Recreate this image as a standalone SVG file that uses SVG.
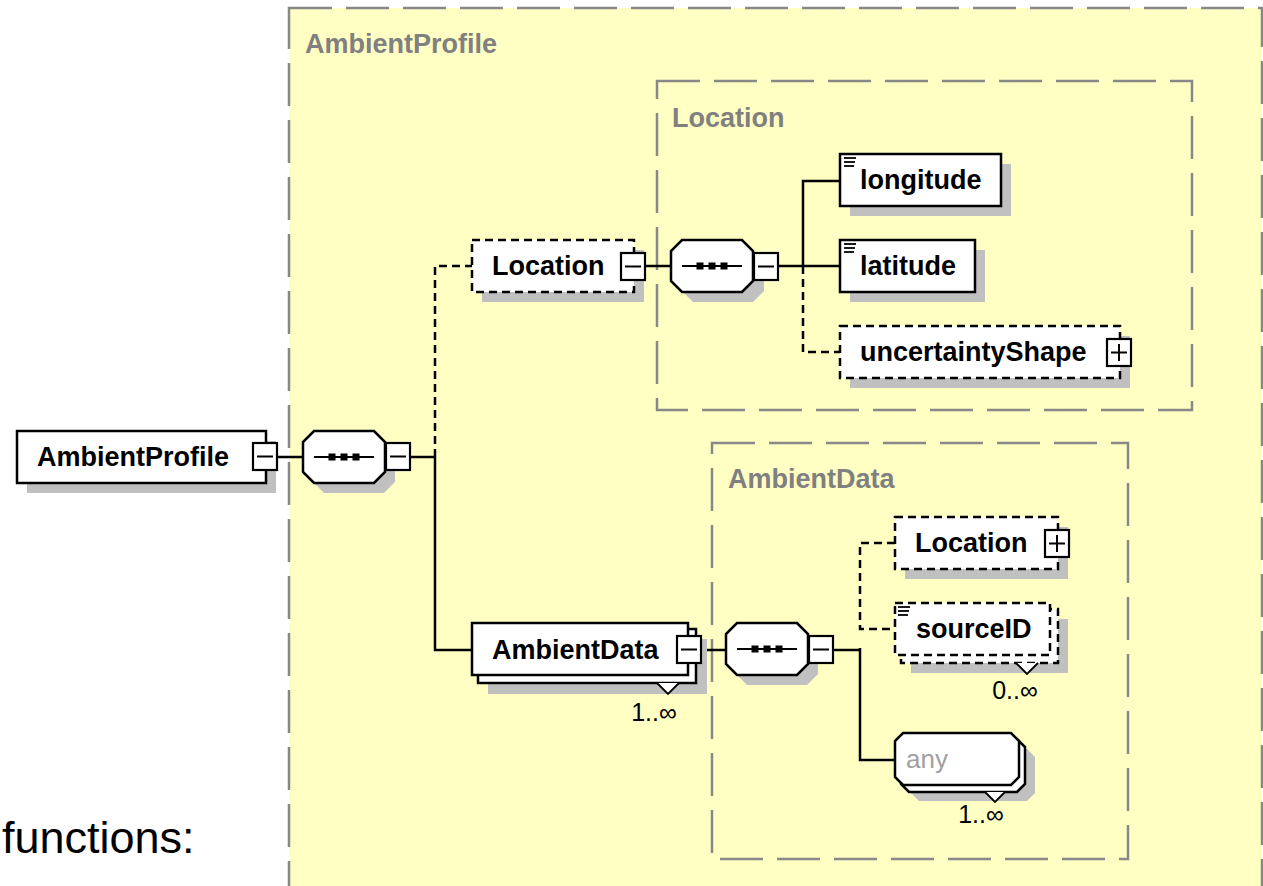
<svg xmlns="http://www.w3.org/2000/svg" xmlns:xlink="http://www.w3.org/1999/xlink" width="1263" height="886" viewBox="0 0 1263 886">
<style>
.region{fill:#ffffc4;stroke:#888;stroke-width:2.5;stroke-dasharray:43 14}
.inner{fill:none;stroke:#888;stroke-width:2.5;stroke-dasharray:43 14}
.rlabel{font-family:"Liberation Sans",Arial,sans-serif;font-weight:bold;font-size:27px;fill:#808080}
.lbl{font-family:"Liberation Sans",Arial,sans-serif;font-weight:bold;font-size:27px;fill:#000}
.anyl{font-family:"Liberation Sans",Arial,sans-serif;font-size:26px;fill:#a0a0a0}
.mult{font-family:"Liberation Sans",Arial,sans-serif;font-size:25px;fill:#000}
.box{fill:#fff;stroke:#000;stroke-width:2.5}
.dbox{fill:#fff;stroke:#000;stroke-width:2.5;stroke-dasharray:8 5}
.shadow{fill:#c0c0c0;stroke:none}
.btn{fill:#fff;stroke:#000;stroke-width:2.2}
.sym{stroke:#000;stroke-width:2;fill:none}
.conn{stroke:#000;stroke-width:2.5;fill:none}
.dconn{stroke:#000;stroke-width:2.5;fill:none;stroke-dasharray:8 5}
.icon{stroke:#000;stroke-width:1.8;fill:none}
</style>
<defs>
<polygon id="oct" points="11,0 71,0 82,11 82,41 71,52 11,52 0,41 0,11"/>
<g id="seqicon">
<line x1="11" y1="26" x2="71" y2="26" stroke="#000" stroke-width="2.2"/>
<rect x="25.5" y="22.5" width="7" height="7" fill="#000"/>
<rect x="37.5" y="22.5" width="7" height="7" fill="#000"/>
<rect x="49.5" y="22.5" width="7" height="7" fill="#000"/>
</g>
<g id="minus">
<rect class="btn" x="0" y="0" width="24" height="27"/>
<line class="sym" x1="4" y1="13.5" x2="20" y2="13.5"/>
</g>
<g id="plus">
<rect class="btn" x="0" y="0" width="24" height="27"/>
<line class="sym" x1="4" y1="13.5" x2="20" y2="13.5"/>
<line class="sym" x1="12" y1="5" x2="12" y2="22"/>
</g>
<g id="elicon">
<line class="icon" x1="0" y1="1" x2="12" y2="1"/>
<line class="icon" x1="0" y1="5" x2="11" y2="5"/>
<line class="icon" x1="0" y1="9" x2="10" y2="9"/>
</g>
</defs>
<rect x="0" y="0" width="1263" height="886" fill="#fff"/>
<text x="2" y="853" font-family="Liberation Sans, Arial, sans-serif" font-size="45" fill="#000">functions:</text>

<g id="regions">
<rect class="region" x="289" y="8" width="973" height="900"/>
<text class="rlabel" x="305" y="53">AmbientProfile</text>
<rect class="inner" x="657" y="81" width="535" height="329"/>
<text class="rlabel" x="672" y="127">Location</text>
<rect class="inner" x="712" y="443" width="416" height="416"/>
<text class="rlabel" x="728" y="488">AmbientData</text>
</g>

<g id="connectors">
<line class="conn" x1="277" y1="457" x2="303" y2="457"/>
<line class="conn" x1="409" y1="457" x2="435" y2="457"/>
<polyline class="dconn" points="435,457 435,266 472,266"/>
<polyline class="conn" points="435,457 435,650 472,650"/>
<line class="conn" x1="646" y1="266" x2="672" y2="266"/>
<line class="conn" x1="778" y1="266" x2="840" y2="266"/>
<polyline class="conn" points="840,181 803,181 803,266"/>
<polyline class="dconn" points="803,266 803,352 840,352"/>
<line class="conn" x1="700" y1="650" x2="726" y2="650"/>
<line class="conn" x1="833" y1="650" x2="860" y2="650"/>
<polyline class="dconn" points="895,543 860,543 860,629 895,629"/>
<polyline class="conn" points="860,648 860,760 895,760"/>
</g>

<g id="node-ambientprofile">
<rect class="shadow" x="27" y="441" width="249" height="52"/>
<rect class="box" x="17" y="431" width="249" height="52"/>
<text class="lbl" x="37" y="466">AmbientProfile</text>
<use xlink:href="#minus" x="253" y="443"/>
</g>

<g id="node-seq1">
<use xlink:href="#oct" x="313" y="441" class="shadow"/>
<use xlink:href="#oct" x="303" y="431" class="box"/>
<use xlink:href="#seqicon" x="303" y="431"/>
<use xlink:href="#minus" x="386" y="443"/>
</g>

<g id="node-location">
<rect class="shadow" x="482" y="250" width="162" height="52"/>
<rect class="dbox" x="472" y="240" width="162" height="52"/>
<text class="lbl" x="492" y="275">Location</text>
<use xlink:href="#minus" x="621" y="253"/>
</g>

<g id="node-seq2">
<use xlink:href="#oct" x="682" y="250" class="shadow"/>
<use xlink:href="#oct" x="671" y="240" class="box"/>
<use xlink:href="#seqicon" x="671" y="240"/>
<use xlink:href="#minus" x="754" y="253"/>
</g>

<g id="node-longitude">
<rect class="shadow" x="850" y="164" width="161" height="52"/>
<rect class="box" x="840" y="154" width="161" height="52"/>
<use xlink:href="#elicon" x="844" y="157"/>
<text class="lbl" x="860" y="189">longitude</text>
</g>

<g id="node-latitude">
<rect class="shadow" x="850" y="250" width="135" height="52"/>
<rect class="box" x="840" y="240" width="135" height="52"/>
<use xlink:href="#elicon" x="844" y="243"/>
<text class="lbl" x="860" y="275">latitude</text>
</g>

<g id="node-uncertaintyshape">
<rect class="shadow" x="850" y="336" width="280" height="52"/>
<rect class="dbox" x="840" y="326" width="280" height="52"/>
<text class="lbl" x="860" y="361">uncertaintyShape</text>
<use xlink:href="#plus" x="1107" y="339"/>
</g>

<g id="node-ambientdata">
<rect class="shadow" x="488" y="639" width="219" height="55"/>
<rect class="box" x="478" y="629" width="218" height="54"/>
<rect class="box" x="472" y="623" width="216" height="52"/>
<polyline points="657,683 668,694 679,683" fill="#fff" stroke="#000" stroke-width="1.8"/>
<text class="lbl" x="492" y="659">AmbientData</text>
<use xlink:href="#minus" x="677" y="636"/>
<text class="mult" x="654" y="721" text-anchor="middle">1..∞</text>
</g>

<g id="node-seq3">
<use xlink:href="#oct" x="736" y="633" class="shadow"/>
<use xlink:href="#oct" x="726" y="623" class="box"/>
<use xlink:href="#seqicon" x="726" y="623"/>
<use xlink:href="#minus" x="809" y="636"/>
</g>

<g id="node-location2">
<rect class="shadow" x="905" y="527" width="163" height="52"/>
<rect class="dbox" x="895" y="517" width="163" height="52"/>
<text class="lbl" x="915" y="552">Location</text>
<use xlink:href="#plus" x="1045" y="530"/>
</g>

<g id="node-sourceid">
<rect class="shadow" x="911" y="619" width="157" height="54"/>
<rect class="dbox" x="901" y="609" width="157" height="54"/>
<rect class="dbox" x="895" y="603" width="155" height="52"/>
<polyline points="1016,663 1027,674 1038,663" fill="#fff" stroke="#000" stroke-width="1.8"/>
<use xlink:href="#elicon" x="898" y="606"/>
<text class="lbl" x="916" y="638">sourceID</text>
<text class="mult" x="1015" y="699" text-anchor="middle">0..∞</text>
</g>

<g id="node-any">
<polygon class="shadow" points="919,749 1027,749 1035,757 1035,793 1027,801 919,801 911,793 911,757"/>
<polygon class="box" points="909,739 1017,739 1025,747 1025,784 1017,792 909,792 901,784 901,747"/>
<polygon class="box" points="903,733 1011,733 1019,741 1019,777 1011,785 903,785 895,777 895,741"/>
<polyline points="985,792 995,802 1005,792" fill="#fff" stroke="#000" stroke-width="1.8"/>
<text class="anyl" x="906" y="768">any</text>
<text class="mult" x="981" y="823" text-anchor="middle">1..∞</text>
</g>
</svg>
